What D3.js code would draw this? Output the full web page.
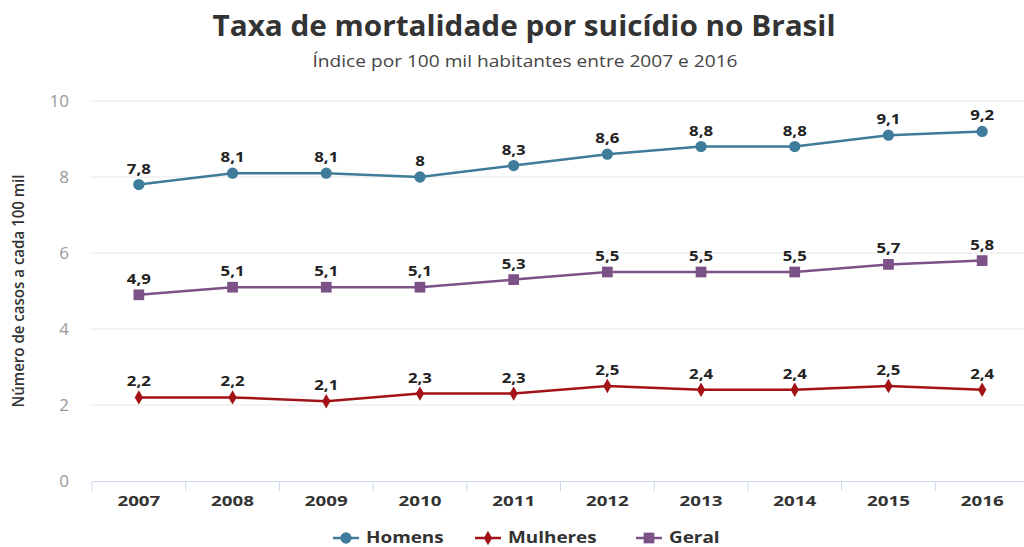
<!DOCTYPE html>
<html><head><meta charset="utf-8">
<script src="https://cdn.jsdelivr.net/npm/d3@7"></script>
<style>body{margin:0;background:#fff;overflow:hidden}svg{display:block;font-family:"Open Sans",sans-serif}</style>
</head><body><svg id="c" width="1024" height="547"></svg>
<script>
const years = ["2007","2008","2009","2010","2011","2012","2013","2014","2015","2016"];
const homens = [7.8,8.1,8.1,8.0,8.3,8.6,8.8,8.8,9.1,9.2];
const mulheres = [2.2,2.2,2.1,2.3,2.3,2.5,2.4,2.4,2.5,2.4];
const geral = [4.9,5.1,5.1,5.1,5.3,5.5,5.5,5.5,5.7,5.8];
const yTicks = [0,2,4,6,8,10];
const seriesNames = ["Homens","Mulheres","Geral"];

const svg = d3.select("#c");
const x = d3.scaleBand().domain(years).range([92,1029]);
const y = d3.scaleLinear().domain([0,10]).range([481,101]);
const fmt = v => String(v).replace(".", ",");
function stretch(sel, f){
  sel.each(function(){ const w=this.getComputedTextLength(); d3.select(this).attr("textLength",w*f).attr("lengthAdjust","spacingAndGlyphs"); });
}

// title
svg.append("text").attr("x",524).attr("y",36).attr("text-anchor","middle")
  .attr("font-size",28).attr("font-weight",700).attr("fill","#333")
  .attr("textLength",623).attr("lengthAdjust","spacingAndGlyphs")
  .text("Taxa de mortalidade por suicídio no Brasil");
svg.append("text").attr("x",525).attr("y",67).attr("text-anchor","middle")
  .attr("font-size",17).attr("fill","#444")
  .attr("textLength",425).attr("lengthAdjust","spacingAndGlyphs")
  .text("Índice por 100 mil habitantes entre 2007 e 2016");

// grid
const g = svg.append("g");
g.selectAll("line.grid").data(yTicks.filter(d=>d>0)).enter().append("line")
  .attr("x1",90).attr("x2",1024).attr("y1",d=>y(d)).attr("y2",d=>y(d))
  .attr("stroke","#e6e6e6").attr("stroke-width",1);
g.selectAll("text.yt").data(yTicks).enter().append("text")
  .attr("x",69).attr("y",d=>y(d)+6).attr("text-anchor","end")
  .attr("font-size",17).attr("fill","#999").text(d=>d);

// y label
svg.append("text").attr("transform","translate(24,291) rotate(-90)")
  .attr("text-anchor","middle").attr("font-size",16).attr("font-weight",600).attr("fill","#333")
  .attr("textLength",233).attr("lengthAdjust","spacingAndGlyphs")
  .text("Número de casos a cada 100 mil");

// x axis
const xa = svg.append("g").attr("transform",`translate(0,${y(0)})`)
  .call(d3.axisBottom(x).tickSize(0).tickPadding(14));
xa.select(".domain").attr("stroke","#ccd6eb");
xa.selectAll("text").attr("font-size",15).attr("font-weight",700).attr("fill","#333").attr("font-family","Open Sans");
stretch(xa.selectAll(".tick text"), 1.25);
const bounds = years.map(d=>x(d)).concat([x(years[years.length-1])+x.bandwidth()]);
xa.selectAll("line.tk").data(bounds).enter().append("line")
  .attr("x1",d=>d).attr("x2",d=>d).attr("y1",0).attr("y2",10).attr("stroke","#ccd6eb");

const cx = d => x(d)+x.bandwidth()/2;
const series = [
  {name:"Homens", vals:homens, color:"#3f7b9a", shape:d3.symbolCircle, size:100},
  {name:"Mulheres", vals:mulheres, color:"#a31217", shape:d3.symbolDiamond, size:60},
  {name:"Geral", vals:geral, color:"#7b5188", shape:d3.symbolSquare, size:115}
];
const line = d3.line().x(d=>cx(d[0])).y(d=>y(d[1]));
series.forEach(s=>{
  const pts = years.map((yr,i)=>[yr,s.vals[i]]);
  svg.append("path").attr("d",line(pts)).attr("fill","none").attr("stroke",s.color).attr("stroke-width",2.5);
  svg.selectAll(null).data(pts).enter().append("path")
    .attr("d",d3.symbol().type(s.shape).size(s.size))
    .attr("transform",d=>`translate(${cx(d[0])},${y(d[1])})`).attr("fill",s.color);
  const lbl = svg.selectAll(null).data(pts).enter().append("text")
    .attr("x",d=>cx(d[0])).attr("y",d=>y(d[1])-11).attr("text-anchor","middle")
    .attr("font-size",15).attr("font-weight",700).attr("fill","#222").text(d=>fmt(d[1]));
  stretch(lbl, 1.12);
});

// legend
const legX = [333,475,636];
series.forEach((s,i)=>{
  const lg = svg.append("g").attr("transform",`translate(${legX[i]},538)`);
  lg.append("line").attr("x1",0).attr("x2",26).attr("y1",0).attr("y2",0).attr("stroke",s.color).attr("stroke-width",2.5);
  lg.append("path").attr("d",d3.symbol().type(s.shape).size(s.size)).attr("transform","translate(13,0)").attr("fill",s.color);
  const t = lg.append("text").attr("x",33).attr("y",5).attr("font-size",16).attr("font-weight",700).attr("fill","#333").text(s.name);
  stretch(t, 1.18);
});
</script></body></html>
